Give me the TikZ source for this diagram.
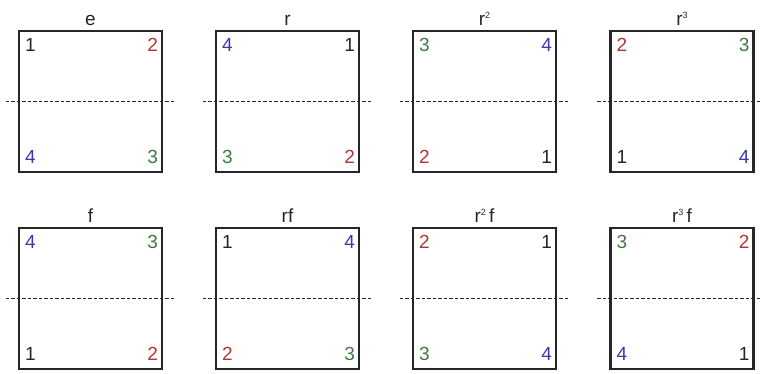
\documentclass[tikz,border=0pt]{standalone}
\usepackage{fontspec}
\setmainfont{Liberation Sans}
\usetikzlibrary{positioning}
\definecolor{edgegray}{HTML}{262626}
\definecolor{num1}{HTML}{262626}
\definecolor{num2}{HTML}{B03636}
\definecolor{num3}{HTML}{3D7A3D}
\definecolor{num4}{HTML}{3838B0}
\newcommand{\powsup}[1]{\raisebox{0.75ex}{\fontsize{9}{9}\selectfont #1}}
\tikzset{
  squarebox/.style={
    rectangle, draw=edgegray, line width=2.2pt,
    minimum width=143pt, minimum height=141pt, inner sep=0pt
  },
  cornernum/.style={font=\fontsize{19}{19}\selectfont, inner sep=0pt},
  toplabel/.style={font=\fontsize{19}{19}\selectfont, inner sep=0pt, text=edgegray},
  foldline/.style={
    draw=edgegray, line width=1.6pt, dash pattern=on 3.5pt off 2pt,
    shorten <=-12pt, shorten >=-12pt
  },
}

\begin{document}
\begin{tikzpicture}[x=1pt,y=-1pt]
  \useasboundingbox (0,0) rectangle (760,373);
  \foreach \sq/\lbl/\cx/\cy/\nw/\ne/\sw/\se in {
      e/e/90.5/101.5/1/2/4/3,
      r/r/287.5/101.5/4/1/3/2,
      rr/{r\powsup{2}}/484.5/101.5/3/4/2/1,
      rrr/{r\powsup{3}}/682/101.5/2/3/1/4,
      f/f/90.5/298.5/4/3/1/2,
      rf/rf/287.5/298.5/1/4/2/3,
      rrf/{r\powsup{2}\,f}/484.5/298.5/2/1/3/4,
      rrrf/{r\powsup{3}\,f}/682/298.5/3/2/4/1}
  {
    \node[squarebox] (\sq) at (\cx,\cy) {};
    \node[toplabel, above=4pt of \sq.north] (\sq-lbl) {\lbl};
    \draw[foldline] (\sq.west) -- (\sq.east);
    % corner numbers
    \node[cornernum, text=num\nw, below right=8pt and 7pt of \sq.north west] (\sq-nw) {\nw};
    \node[cornernum, text=num\ne, below left=8pt and 5pt of \sq.north east] (\sq-ne) {\ne};
    \node[cornernum, text=num\sw, above right=9pt and 7pt of \sq.south west] (\sq-sw) {\sw};
    \node[cornernum, text=num\se, above left=9pt and 5pt of \sq.south east] (\sq-se) {\se};
  }
\end{tikzpicture}
\end{document}
